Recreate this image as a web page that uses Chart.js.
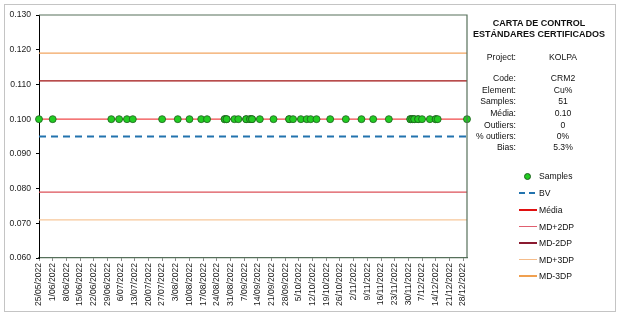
<!DOCTYPE html>
<html>
<head>
<meta charset="utf-8">
<script src="https://cdn.jsdelivr.net/npm/chart.js@4.4.1/dist/chart.umd.min.js"></script>
<style>
  html, body { margin:0; padding:0; background:#fff; }
  #wrap { position:relative; width:623px; height:318px; overflow:hidden; font-family:"Liberation Sans", Arial, sans-serif; color:#111; }
  #frame { position:absolute; left:4px; top:4px; width:612px; height:308px; border:1.5px solid #C4C4C4; box-sizing:border-box; }
  canvas { position:absolute; left:0; top:0; }
  .t { position:absolute; font-size:8.6px; line-height:10px; white-space:nowrap; }
  .title { font-weight:bold; font-size:9px; text-align:center; width:160px; left:459px; }
  .lab { text-align:right; width:90px; left:426px; }
  .val { text-align:center; width:60px; left:533px; }
  .lg { position:absolute; height:10px; }
</style>
</head>
<body>
<div id="wrap">
  <canvas id="c" width="623" height="318"></canvas>
  <div id="frame"></div>
  <div id="panel"></div>
  <div id="legend"></div>
</div>
<script>
// ---- data ----
const sampleDates = [
  "25/05/2022","1/06/2022","1/07/2022","5/07/2022","9/07/2022","12/07/2022","27/07/2022",
  "4/08/2022","10/08/2022","16/08/2022","19/08/2022","28/08/2022","28/08/2022","29/08/2022","29/08/2022",
  "2/09/2022","4/09/2022","8/09/2022","8/09/2022","10/09/2022","10/09/2022","11/09/2022","11/09/2022",
  "15/09/2022","22/09/2022","30/09/2022","30/09/2022","2/10/2022","6/10/2022","9/10/2022","11/10/2022",
  "14/10/2022","21/10/2022","29/10/2022","6/11/2022","12/11/2022","20/11/2022",
  "1/12/2022","1/12/2022","2/12/2022","2/12/2022","3/12/2022","3/12/2022","5/12/2022","5/12/2022",
  "7/12/2022","11/12/2022","14/12/2022","14/12/2022","15/12/2022","30/12/2022"
];
const sampleValues = [
  0.100,0.100,0.100,0.100,0.100,0.100,0.100,
  0.100,0.100,0.100,0.100,0.100,0.100,0.100,0.100,
  0.100,0.100,0.100,0.100,0.100,0.100,0.100,0.100,
  0.100,0.100,0.100,0.100,0.100,0.100,0.100,0.100,
  0.100,0.100,0.100,0.100,0.100,0.100,
  0.100,0.100,0.100,0.100,0.100,0.100,0.100,0.100,
  0.100,0.100,0.100,0.100,0.100,0.100
];
const tickLabels = [
  "25/05/2022","1/06/2022","8/06/2022","15/06/2022","22/06/2022","29/06/2022","6/07/2022",
  "13/07/2022","20/07/2022","27/07/2022","3/08/2022","10/08/2022","17/08/2022","24/08/2022",
  "31/08/2022","7/09/2022","14/09/2022","21/09/2022","28/09/2022","5/10/2022","12/10/2022",
  "19/10/2022","26/10/2022","2/11/2022","9/11/2022","16/11/2022","23/11/2022","30/11/2022",
  "7/12/2022","14/12/2022","21/12/2022","28/12/2022"
];
const yTicks = [0.060,0.070,0.080,0.090,0.100,0.110,0.120,0.130];
const lineNames  = ["BV","Média","MD+2DP","MD-2DP","MD+3DP","MD-3DP"];
const lineValues = [0.095, 0.100, 0.079, 0.111, 0.071, 0.119];
const statLabels = ["Code:","Element:","Samples:","Média:","Outliers:","% outliers:","Bias:"];
const statValues = ["CRM2","Cu%","51","0.10","0","0%","5.3%"];
const projectName = "KOLPA";

// ---- helpers ----
const base = Date.UTC(2022,4,25);
function dayOf(s){ const [d,m,y] = s.split('/').map(Number); return Math.round((Date.UTC(y,m-1,d)-base)/86400000); }
const xMin = dayOf(sampleDates[0]);
const xMax = dayOf(sampleDates[sampleDates.length-1]);
const tickDays = tickLabels.map(dayOf);

const lineStyles = {
  "BV":     {color:"#2273AE", width:2.2, dash:[7,5]},
  "Média":  {color:"#F04848", width:1.3, dash:[]},
  "MD+2DP": {color:"#DC5058", width:1.2, dash:[]},
  "MD-2DP": {color:"#A01010", width:1.2, dash:[]},
  "MD+3DP": {color:"#F7C79A", width:1.2, dash:[]},
  "MD-3DP": {color:"#F2A560", width:1.2, dash:[]}
};
const legendStyles = {
  "Média":  {color:"#E01010", width:2.2},
  "MD+2DP": {color:"#E06070", width:1.5},
  "MD-2DP": {color:"#8A1A30", width:1.5},
  "MD+3DP": {color:"#F5BC8A", width:1.5},
  "MD-3DP": {color:"#F0A050", width:1.5}
};

const datasets = [{
  label:"Samples",
  type:"scatter",
  data: sampleDates.map((d,i)=>({x:dayOf(d), y:sampleValues[i]})),
  backgroundColor:"#22CC22",
  borderColor:"#1E5E1E",
  borderWidth:0.8,
  pointRadius:3.5,
  clip:false,
  order:0
}];
lineNames.forEach((n,i)=>{
  const s = lineStyles[n];
  datasets.push({
    label:n, type:"line",
    data:[{x:xMin,y:lineValues[i]},{x:xMax,y:lineValues[i]}],
    borderColor:s.color, borderWidth:s.width, borderDash:s.dash,
    pointRadius:0, fill:false, order:1
  });
});

const framePlugin = {
  id:"frame",
  afterDatasetsDraw(chart){
    const {ctx, chartArea:a} = chart;
    ctx.save();
    ctx.strokeStyle="#56705A"; ctx.lineWidth=1.2;
    ctx.beginPath();
    ctx.moveTo(a.left, a.top); ctx.lineTo(a.right, a.top); ctx.lineTo(a.right, a.bottom);
    ctx.stroke();
    ctx.restore();
  }
};

const font = {family:"'Liberation Sans', Arial, sans-serif", size:8.6};
const chart = new Chart(document.getElementById('c'), {
  type:"scatter",
  data:{datasets},
  options:{
    responsive:false, animation:false,
    layout:{padding:{left:0, top:15, right:156, bottom:0}},
    plugins:{legend:{display:false}, tooltip:{enabled:false}},
    scales:{
      x:{
        type:"linear", min:xMin, max:xMax,
        afterFit(s){ s.height = 60; },
        afterBuildTicks(s){ s.ticks = tickDays.map(v=>({value:v})); },
        ticks:{ autoSkip:false, maxRotation:90, minRotation:90, padding:2, color:"#222", font,
          callback:(v,i)=>tickLabels[i] },
        grid:{ display:true, drawOnChartArea:false, drawTicks:true, tickLength:3, color:"#888" },
        border:{ display:true, color:"#56705A", width:1.2 }
      },
      y:{
        min:yTicks[0], max:yTicks[yTicks.length-1],
        afterFit(s){ s.width = 39; },
        afterBuildTicks(s){ s.ticks = yTicks.map(v=>({value:v})); },
        ticks:{ padding:5, color:"#222", font, callback:(v)=>Number(v).toFixed(3) },
        grid:{ display:true, drawOnChartArea:false, drawTicks:true, tickLength:3, color:"#000" },
        border:{ display:true, color:"#000", width:1 }
      }
    }
  },
  plugins:[framePlugin]
});

// ---- side panel ----
const panel = document.getElementById('panel');
function addText(cls, txt, cy, extra){
  const d = document.createElement('div');
  d.className = 't ' + cls; d.textContent = txt;
  d.style.top = (cy-5) + 'px';
  if (extra) Object.assign(d.style, extra);
  panel.appendChild(d);
}
addText('title', 'CARTA DE CONTROL', 22.7);
addText('title', 'ESTÁNDARES CERTIFICADOS', 33.5);
addText('lab', 'Project:', 56.7);
addText('val', projectName, 56.7);
const rowY = [78.3, 90, 101.3, 112.8, 124.5, 136, 147.4];
statLabels.forEach((l,i)=>{ addText('lab', l, rowY[i]); addText('val', statValues[i], rowY[i]); });

// ---- legend ----
const legend = document.getElementById('legend');
const legY = [176, 192.7, 209.6, 226.5, 243.2, 259.6, 276];
chart.data.datasets.forEach((ds,i)=>{
  const cy = legY[i];
  const mk = document.createElement('div');
  mk.className = 'lg';
  if (ds.type === 'scatter') {
    Object.assign(mk.style, {left:(527-3.5)+'px', top:(cy-3.5)+'px', width:'7px', height:'7px',
      borderRadius:'50%', background:ds.backgroundColor, boxSizing:'border-box',
      border:'0.8px solid '+ds.borderColor});
  } else {
    const ls = legendStyles[ds.label] || {};
    const w = ls.width || ds.borderWidth;
    const col = ls.color || ds.borderColor;
    if (ds.borderDash && ds.borderDash.length) {
      Object.assign(mk.style, {left:'519px', top:(cy-w/2)+'px', width:'18px', height:w+'px',
        background:`repeating-linear-gradient(90deg, ${col} 0 6px, transparent 6px 10px)`});
    } else {
      Object.assign(mk.style, {left:'519px', top:(cy-w/2)+'px', width:'18px', height:w+'px', background:col});
    }
  }
  legend.appendChild(mk);
  const t = document.createElement('div');
  t.className = 't'; t.textContent = ds.label;
  Object.assign(t.style, {left:'539px', top:(cy-5)+'px'});
  legend.appendChild(t);
});
</script>
</body>
</html>
